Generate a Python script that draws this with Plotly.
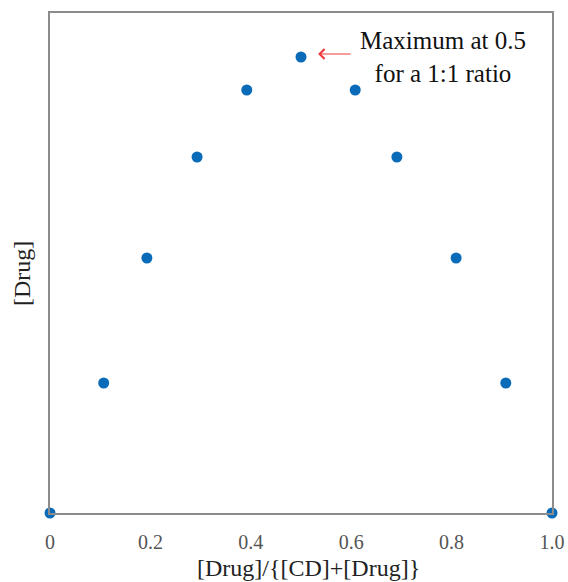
import plotly.graph_objects as go

x_vals = [0.0, 0.107, 0.193, 0.293, 0.392, 0.5, 0.608, 0.691, 0.809, 0.908, 1.0]
y_vals = [0.0, 0.26, 0.51, 0.712, 0.846, 0.912, 0.846, 0.712, 0.51, 0.26, 0.0]
tick_vals = [0, 0.2, 0.4, 0.6, 0.8, 1.0]
tick_text = ["0", "0.2", "0.4", "0.6", "0.8", "1.0"]
x_title = "[Drug]/{[CD]+[Drug]}"
y_title = "[Drug]"
note = "Maximum at 0.5<br>for a 1:1 ratio"

serif = "Liberation Serif"

fig = go.Figure()
fig.add_trace(go.Scatter(
    x=x_vals, y=y_vals, mode="markers",
    marker=dict(size=11, color="#0A6BB8"),
    cliponaxis=False, showlegend=False,
))

fig.add_annotation(
    x=0.534, y=0.918, ax=0.602, ay=0.918, xref="x", yref="y", axref="x", ayref="y",
    text="", showarrow=True, arrowhead=4, arrowsize=1.6, arrowwidth=1.2,
    arrowcolor="#F03A3A",
)
fig.add_annotation(
    x=0.783, y=0.912, xref="x", yref="y", showarrow=False,
    text=note, align="center",
    font=dict(family=serif, size=25, color="#111111"),
)
# axis titles
fig.add_annotation(
    x=0.5, y=0, xref="paper", yref="paper", xanchor="center", yanchor="middle",
    xshift=7, yshift=-55, showarrow=False, text=x_title,
    font=dict(family=serif, size=24, color="#222222"),
)
fig.add_annotation(
    x=0, y=0.478, xref="paper", yref="y", xanchor="center", yanchor="middle",
    xshift=-28, showarrow=False, text=y_title, textangle=-90,
    font=dict(family=serif, size=24, color="#222222"),
)

fig.update_layout(
    width=568, height=582,
    margin=dict(l=50, r=16, t=13, b=69, autoexpand=False),
    paper_bgcolor="white", plot_bgcolor="white",
    font=dict(family=serif),
    xaxis=dict(
        range=[0, 1], tickvals=tick_vals, ticktext=tick_text,
        showgrid=False, zeroline=False, showline=True, mirror=True,
        linecolor="#8C8C8C", linewidth=1.5, ticks="", automargin=False,
        ticklabelstandoff=10,
        tickfont=dict(family=serif, size=20, color="#555555"),
    ),
    yaxis=dict(
        range=[0, 1], showticklabels=False, ticks="", automargin=False,
        showgrid=False, zeroline=False, showline=True, mirror=True,
        linecolor="#8C8C8C", linewidth=1.5,
    ),
)

fig.write_html("out.html")
